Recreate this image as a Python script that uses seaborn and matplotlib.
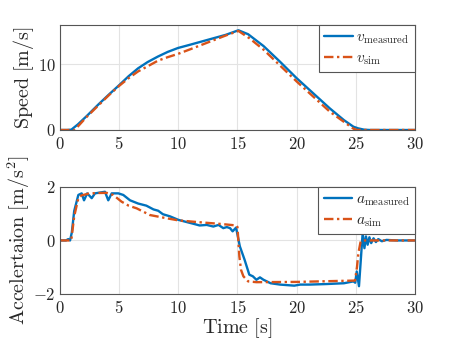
import numpy as np
import pandas as pd
import matplotlib
matplotlib.use("Agg")
import matplotlib.pyplot as plt
import seaborn as sns
from matplotlib.ticker import FuncFormatter

# ---- data ----
t_v_meas = [0, 0.6, 0.96, 1.52, 2.3, 3.21, 4.1, 5.04, 5.8, 6.6, 7.4, 8.28, 9.1, 9.97, 11, 12,
            13, 14, 15.08, 15.9, 17.2, 18.6, 20.0, 21.4, 22.8, 24, 24.8, 25.2, 25.7, 26.2, 30]
v_meas = [0, 0, 0.05, 0.87, 2.2, 3.83, 5.35, 6.9, 8.2, 9.4, 10.35, 11.2, 11.9, 12.5, 13.0, 13.5,
          14.0, 14.5, 15.2, 14.6, 12.8, 10.4, 7.9, 5.6, 3.3, 1.5, 0.5, 0.25, 0.05, 0, 0]

t_v_sim = [0, 1.24, 2.2, 3.2, 4.1, 5.0, 5.8, 6.6, 7.5, 8.28, 9.1, 9.97, 11, 12, 13, 14, 15.08,
           16, 17.2, 20.0, 22.8, 24.8, 25.1, 30]
v_sim = [0, 0, 1.9, 3.67, 5.25, 6.73, 7.9, 8.93, 9.8, 10.57, 11.1, 11.6, 12.3, 13.0, 13.7, 14.4,
         15.1, 14.0, 12.25, 7.4, 2.8, 0.2, 0, 0]

t_a_meas = [0, 0.5, 0.7, 0.85, 1.0, 1.2, 1.55, 1.83, 2.03, 2.3, 2.68, 2.96, 3.52, 3.8, 4.08,
            4.37, 4.93, 5.35, 5.92, 6.6, 7.3, 7.9, 8.3, 8.7, 9.3, 10, 10.6, 11.3, 11.8, 12.4,
            12.96, 13.4, 13.8, 14.1, 14.37, 14.59, 14.88, 15.2, 15.6, 16.0, 16.3, 16.6, 16.9,
            17.2, 17.8, 18.6, 19.8, 20.3, 21.1, 22.5, 24, 24.8, 24.95, 25.08, 25.27, 25.58,
            25.73, 25.86, 26.0, 26.15, 26.3, 26.5, 26.7, 26.9, 27.2, 27.6, 28.0, 28.5, 30]
a_meas = [0, 0, 0.05, 0, 0.3, 1.1, 1.70, 1.76, 1.5, 1.76, 1.58, 1.76, 1.8, 1.82, 1.5,
          1.76, 1.76, 1.7, 1.5, 1.38, 1.3, 1.16, 1.11, 0.98, 0.9, 0.77, 0.7, 0.62, 0.56, 0.58,
          0.52, 0.58, 0.46, 0.5, 0.46, 0.34, 0.48, -0.22, -0.72, -1.28, -1.34, -1.47, -1.38,
          -1.47, -1.6, -1.65, -1.69, -1.65, -1.65, -1.63, -1.6, -1.53, -1.58, -1.16, -1.71, 0.27,
          -0.29, 0.15, -0.16, 0.12, -0.1, 0.08, -0.06, 0.05, -0.03, 0.02, 0.01, 0, 0]

t_a_sim = [0, 0.95, 1.2, 1.55, 1.8, 2.4, 3.0, 3.94, 4.5, 5.2, 5.8, 6.48, 7.6, 9, 10, 11.8,
           13.5, 14.9, 15.0, 15.16, 15.3, 15.5, 15.9, 16.6, 20, 24.93, 25.1, 25.22, 25.41, 25.6, 30]
a_sim = [0, 0, 0.9, 1.58, 1.68, 1.75, 1.77, 1.78, 1.7, 1.45, 1.3, 1.2, 0.95, 0.83, 0.75, 0.68,
         0.62, 0.56, 0.5, -0.6, -1.1, -1.34, -1.53, -1.56, -1.55, -1.5, -1.0, -0.47, -0.04, 0, 0]

x_ticks = [0, 5, 10, 15, 20, 25, 30]
v_ticks = [0, 10]
a_ticks = [-2, 0, 2]

# ---- style ----
sns.set_theme(style="whitegrid")
plt.rcParams["mathtext.fontset"] = "cm"
plt.rcParams["font.family"] = ["DejaVu Serif"]

blue = "#0072BD"
orange = "#D95319"
edge = "#262626"
dashdot = (0, (4, 1.5, 1, 1.5))

fig = plt.figure(figsize=(4.58, 3.43), dpi=100)
ax1 = fig.add_axes([0.131, 0.621, 0.775, 0.306])
ax2 = fig.add_axes([0.131, 0.143, 0.775, 0.312])


def style(ax):
    ax.set_xlim(0, 30)
    ax.set_xticks(x_ticks)
    ax.xaxis.set_major_formatter(FuncFormatter(lambda v, p: r"$%g$" % v))
    ax.yaxis.set_major_formatter(FuncFormatter(lambda v, p: r"$%g$" % v))
    ax.grid(True, color="#e3e3e3", linewidth=0.8)
    for s in ax.spines.values():
        s.set_color("#555555")
        s.set_linewidth(0.8)
    ax.tick_params(direction="in", length=3, width=0.6, colors="#555555",
                   labelcolor=edge, labelsize=12, pad=3)
    ax.tick_params(axis="x", pad=4)
    ax.set_facecolor("white")


df_vm = pd.DataFrame({"t": t_v_meas, "v": v_meas})
df_vs = pd.DataFrame({"t": t_v_sim, "v": v_sim})
sns.lineplot(data=df_vm, x="t", y="v", ax=ax1, color=blue, lw=1.7,
             label=r"$v_{\mathrm{measured}}$")
sns.lineplot(data=df_vs, x="t", y="v", ax=ax1, color=orange, lw=1.7, ls=dashdot,
             label=r"$v_{\mathrm{sim}}$")
ax1.set_ylim(0, 16)
ax1.set_yticks(v_ticks)
style(ax1)
ax1.set_xlabel("")
ax1.set_ylabel(r"$\mathrm{Speed\ [m/s]}$", fontsize=14.5, color=edge, labelpad=1)

df_am = pd.DataFrame({"t": t_a_meas, "a": a_meas})
df_as = pd.DataFrame({"t": t_a_sim, "a": a_sim})
sns.lineplot(data=df_am, x="t", y="a", ax=ax2, color=blue, lw=1.7,
             label=r"$a_{\mathrm{measured}}$")
sns.lineplot(data=df_as, x="t", y="a", ax=ax2, color=orange, lw=1.7, ls=dashdot,
             label=r"$a_{\mathrm{sim}}$")
ax2.set_ylim(-2, 2)
ax2.set_yticks(a_ticks)
style(ax2)
ax2.set_xlabel(r"$\mathrm{Time\ [s]}$", fontsize=14.5, color=edge, labelpad=0)
ax2.set_ylabel(r"$\mathrm{Accelertaion\ [m/s^2]}$", fontsize=14.5, color=edge, labelpad=1)

for ax in (ax1, ax2):
    leg = ax.legend(loc="upper right", fontsize=11, frameon=True, fancybox=False,
                    borderaxespad=0, handlelength=1.85, handletextpad=0.25,
                    borderpad=0.35, labelspacing=0.35, framealpha=1)
    leg.get_frame().set_edgecolor("#555555")
    leg.get_frame().set_linewidth(0.8)

fig.savefig("out.png", dpi=100)
